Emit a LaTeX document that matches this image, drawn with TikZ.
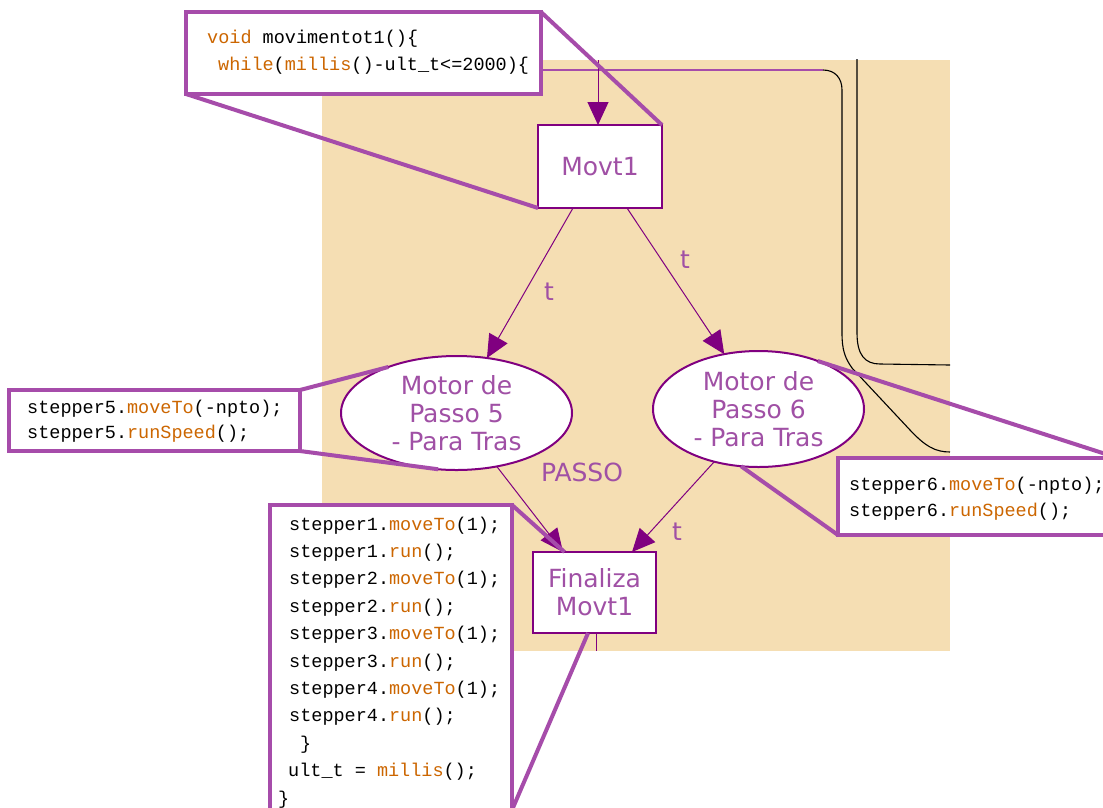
\documentclass[tikz,border=0pt]{standalone}
\usepackage{fontspec}
\setmonofont{Liberation Mono}
\newfontfamily\uifont{DejaVu Sans}
\usetikzlibrary{arrows.meta,shapes.geometric}
\definecolor{bgtan}{RGB}{245,222,179}
\definecolor{darkpur}{RGB}{128,0,128}
\definecolor{callpur}{RGB}{166,76,170}
\definecolor{txtpur}{RGB}{160,80,165}
\definecolor{kw}{RGB}{204,102,0}
\begin{document}
\begin{tikzpicture}[x=1pt,y=-1pt,
  place/.style={draw=darkpur, line width=2pt, fill=white, inner sep=0pt, outer sep=0pt, text=txtpur, font=\uifont\fontsize{25}{28}\selectfont, align=center},
  trans/.style={place, rectangle},
  state/.style={place, ellipse},
  arr/.style={draw=darkpur, line width=1pt, -{Triangle[length=23pt,width=21pt]}},
  lab/.style={text=txtpur, font=\uifont\fontsize{25}{28}\selectfont, inner sep=0pt},
  callout/.style={draw=callpur, line width=4pt},
  codebox/.style={draw=callpur, line width=4pt, fill=white},
  boxspot/.style={rectangle, inner sep=0pt, outer sep=0pt},
  code/.style={font=\ttfamily\fontsize{18.5}{22}\selectfont, inner sep=0pt, anchor=base west},
  wire/.style={black, line width=1.1pt}]
\useasboundingbox (0,0) rectangle (1103,807);
\clip (0,0) rectangle (1103,807);
\fill[white] (0,0) rectangle (1103,807);
% background
\fill[bgtan] (322,60) rectangle (950,651);
% black wires
\draw[callpur, line width=1.5pt] (541,70) -- (823,70);
\draw[wire] (823,70) .. controls (835,70) and (842,78) .. (842,90) -- (842,333)
  .. controls (842,350) and (845,358) .. (852,368) -- (910,430)
  .. controls (925,446) and (935,452) .. (950,452);
\draw[wire] (857,59) -- (857,333) .. controls (857,355) and (865,364) .. (880,364) -- (950,365);
% nodes
\node[trans, minimum width=124pt, minimum height=83pt] (movt1) at (600,166.5) {Movt1};
\node[trans, minimum width=123pt, minimum height=81pt] (fin) at (594.5,592.5) {Finaliza\\Movt1};
\node[state, minimum width=231pt, minimum height=114pt] (m5) at (456.5,413) {Motor de\\Passo 5\\- Para Tras};
\node[state, minimum width=211pt, minimum height=116pt] (m6) at (758.5,409) {Motor de\\Passo 6\\- Para Tras};
% connectors
\coordinate (topin) at (598,60);
\draw[arr] (topin) -- ([xshift=-2pt]movt1.north);
\draw[arr] ([xshift=-27pt]movt1.south) -- (m5.61.5);
\draw[arr] ([xshift=27pt]movt1.south) -- (m6.122.6);
\draw[arr] (m5.-53.1) -- ([xshift=-31.5pt]fin.north);
\draw[arr] (m6.-130.3) -- ([xshift=37.5pt]fin.north);
\coordinate (tickend) at (596,651);
\draw[darkpur, line width=1pt] ([xshift=1.5pt]fin.south) -- (tickend);
% labels
\node[lab] (t1) at (549,292) {t};
\node[lab] (t2) at (685,260) {t};
\node[lab] (t3) at (677,532) {t};
\node[lab] (passo) at (582,472) {PASSO};
% callout box places
\path node[boxspot, minimum width=355pt, minimum height=82pt] (cb1) at (363.5,53) {};
\path node[boxspot, minimum width=291pt, minimum height=61pt] (cb5) at (154.5,420.5) {};
\path node[boxspot, minimum width=280pt, minimum height=77pt] (cb6) at (978,496.5) {};
\path node[boxspot, minimum width=242pt, minimum height=305pt] (cbf) at (391,657.5) {};
% callout lines
\draw[callout] (cb1.north east) -- (movt1.north east);
\draw[callout] (cb1.south west) -- (movt1.south west);
\draw[callout] (cb5.north east) -- (m5.146.9);
\draw[callout] (cb5.south east) -- (m5.-108);
\draw[callout] (cb6.north east) -- (m6.39.7);
\draw[callout] (cb6.south west) -- (m6.-107.7);
\draw[callout] (cbf.north east) -- ([xshift=-30pt]fin.north);
\draw[callout] (cbf.south east) -- ([xshift=-6.5pt]fin.south);
% callout boxes
\draw[codebox] (cb1.north west) rectangle (cb1.south east);
\draw[codebox] (cb5.north west) rectangle (cb5.south east);
\draw[codebox] (cb6.north west) rectangle (cb6.south east);
\draw[codebox] (cbf.north west) rectangle (cbf.south east);
% code text
\node[code] (c1a) at (207,43) {\textcolor{kw}{void} movimentot1()\{};
\node[code] (c1b) at (218,70) {\textcolor{kw}{while}(\textcolor{kw}{millis}()-ult\_t<=2000)\{};
\node[code] (c5a) at (27,413) {stepper5.\textcolor{kw}{moveTo}(-npto);};
\node[code] (c5b) at (27,438) {stepper5.\textcolor{kw}{runSpeed}();};
\node[code] (c6a) at (849,490) {stepper6.\textcolor{kw}{moveTo}(-npto);};
\node[code] (c6b) at (849,516) {stepper6.\textcolor{kw}{runSpeed}();};
\node[code] (cf1) at (289,530) {stepper1.\textcolor{kw}{moveTo}(1);};
\node[code] (cf2) at (289,557.4) {stepper1.\textcolor{kw}{run}();};
\node[code] (cf3) at (289,584.8) {stepper2.\textcolor{kw}{moveTo}(1);};
\node[code] (cf4) at (289,612.2) {stepper2.\textcolor{kw}{run}();};
\node[code] (cf5) at (289,639.6) {stepper3.\textcolor{kw}{moveTo}(1);};
\node[code] (cf6) at (289,667) {stepper3.\textcolor{kw}{run}();};
\node[code] (cf7) at (289,694.4) {stepper4.\textcolor{kw}{moveTo}(1);};
\node[code] (cf8) at (289,721.8) {stepper4.\textcolor{kw}{run}();};
\node[code] (cf9) at (300,749.2) {\}};
\node[code] (cf10) at (288,776.6) {ult\_t = \textcolor{kw}{millis}();};
\node[code] (cf11) at (278,804) {\}};
\end{tikzpicture}
\end{document}
